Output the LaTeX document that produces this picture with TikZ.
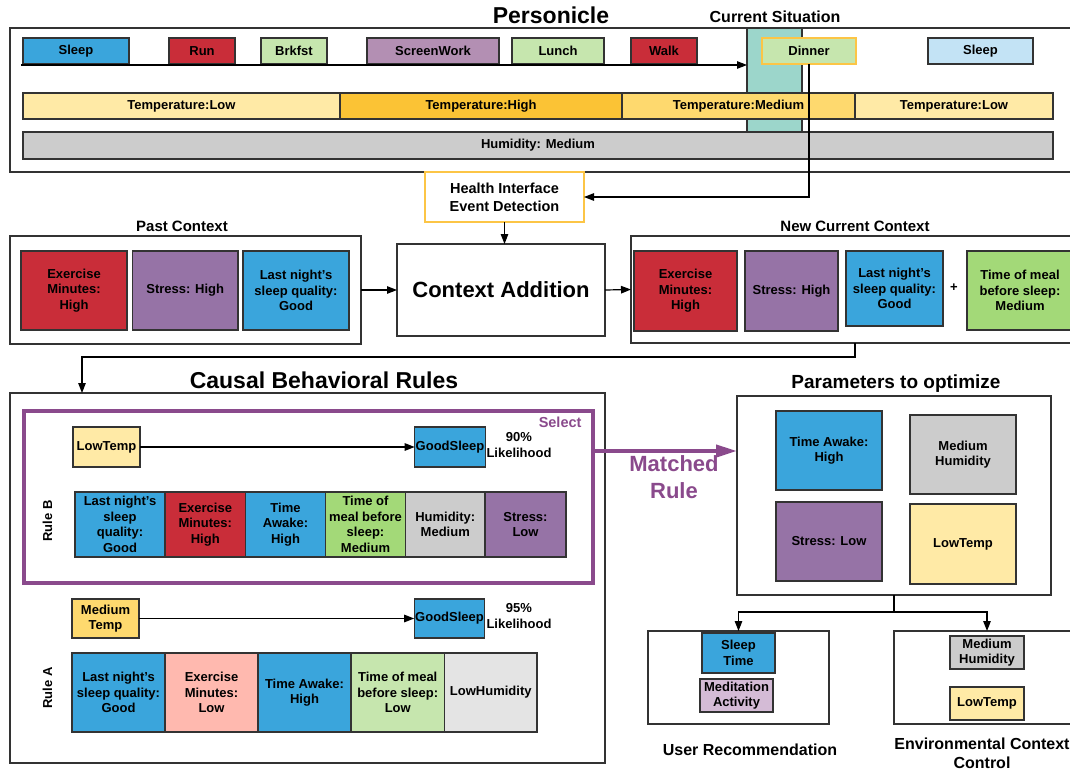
\documentclass[tikz,border=0pt]{standalone}
\usepackage{fontspec}
\setmainfont{Liberation Sans}
\usetikzlibrary{arrows.meta,calc}
\definecolor{lc}{HTML}{333333}
\definecolor{cblue}{HTML}{3AA5DC}
\definecolor{cred}{HTML}{C92D39}
\definecolor{clgreen}{HTML}{C6E6AE}
\definecolor{cgreen}{HTML}{A3D978}
\definecolor{cpurpl}{HTML}{B38FB3}
\definecolor{cpurp}{HTML}{9673A6}
\definecolor{clblue}{HTML}{C3E3F5}
\definecolor{cteal}{HTML}{9CD6CB}
\definecolor{ctlow}{HTML}{FFEAA6}
\definecolor{cthigh}{HTML}{FBC335}
\definecolor{ctmed}{HTML}{FED96E}
\definecolor{cgray}{HTML}{CCCCCC}
\definecolor{clgray}{HTML}{E4E4E4}
\definecolor{csalmon}{HTML}{FFB9AF}
\definecolor{clpurp}{HTML}{D4BBD6}
\definecolor{csel}{HTML}{8A4A8C}
\definecolor{cyel}{HTML}{FCC546}
\newcommand\fsz[2]{\fontsize{#1}{#2}\selectfont\bfseries}
\newcommand\mybox[7]{\node[bx,#6,minimum width={(#4)-(#2)},minimum height={(#5)-(#3)}] (#1) at ({((#2)+(#4))/2},{((#3)+(#5))/2}) {#7};}
\tikzset{
  bx/.style={draw=lc, line width=1.3pt, inner sep=1pt, outer sep=0pt, align=center, font=\fsz{13}{15.6}},
  ttl/.style={font=\fsz{15}{18}, align=center},
  arr/.style={draw=black, line width=1.2pt, -{Triangle[length=10pt,width=7.5pt]}},
  plain/.style={draw=black, line width=1.2pt},
}
\begin{document}
\begin{tikzpicture}[x=1pt,y=-1pt]
\useasboundingbox (0,0) rectangle (1070,771);
% ---------------- Personicle
\node[font=\fsz{23}{27}] (title) at (551,15) {Personicle};
\node[font=\fsz{16}{19}] (cs) at (775,17) {Current Situation};
\mybox{pers}{10}{28}{1085}{172}{}{}
\mybox{teal}{747}{28}{802}{132}{fill=cteal}{}
\mybox{sleepa}{23}{38}{129}{64}{fill=cblue}{Sleep}
\mybox{run}{169}{38}{235}{64}{fill=cred}{Run}
\mybox{brk}{261}{38}{327}{64}{fill=clgreen}{Brkfst}
\mybox{scr}{367}{38}{499}{64}{fill=cpurpl}{ScreenWork}
\mybox{lunch}{512}{38}{604}{64}{fill=clgreen}{Lunch}
\mybox{walk}{631}{38}{697}{64}{fill=cred}{Walk}
\mybox{dinner}{762}{38}{856}{64}{fill=clgreen,draw=cyel}{Dinner}
\mybox{sleepb}{928}{38}{1033}{64}{fill=clblue}{Sleep}
\coordinate (tl0) at (21,65);
\draw[arr] (tl0) -- (tl0 -| teal.west);
\mybox{tlowa}{23}{93}{340}{119}{fill=ctlow}{Temperature:Low}
\mybox{thigh}{340}{93}{622}{119}{fill=cthigh}{Temperature:High}
\mybox{tmed}{622}{93}{855}{119}{fill=ctmed}{Temperature:Medium}
\mybox{tlowb}{855}{93}{1053}{119}{fill=ctlow}{Temperature:Low}
\mybox{hum}{23}{132}{1053}{159}{fill=cgray}{Humidity: Medium}
% ---------------- Health interface
\mybox{hi}{425}{172}{584}{222}{draw=cyel,fill=white,font=\fsz{14.5}{18}}{Health Interface\\Event Detection}
\draw[arr] (dinner.south) |- (hi.east);
% ---------------- Past context
\node[ttl] (pct) at (182,226) {Past Context};
\mybox{pc}{10}{236}{361}{344}{}{}
\mybox{pe}{21}{251}{127}{330}{fill=cred}{Exercise\\Minutes:\\High}
\mybox{ps}{132.5}{251}{238}{330}{fill=cpurp}{Stress: High}
\mybox{pq}{243}{251}{349}{330}{fill=cblue}{Last night's\\sleep quality:\\Good}
% ---------------- Context addition
\mybox{ca}{397}{244}{605}{336}{fill=white,font=\fsz{22}{26}}{Context Addition}
\draw[arr] (hi.south) -- (hi.south |- ca.north);
\draw[arr] (pc.east) -- (ca.west);
% ---------------- New current context
\node[ttl] (ncct) at (855,226) {New Current Context};
\mybox{ncc}{631}{236}{1079}{343}{}{}
\draw[arr] (ca.east) -- (ncc.west);
\mybox{ne}{634}{251}{737}{331}{fill=cred}{Exercise\\Minutes:\\High}
\mybox{ns}{745}{251}{838}{331}{fill=cpurp}{Stress: High}
\mybox{nq}{846}{251}{943}{326}{fill=cblue}{Last night's\\sleep quality:\\Good}
\node[font=\fsz{13}{15}] (plus) at (954,288) {+};
\mybox{nm}{967}{251}{1073}{330}{fill=cgreen}{Time of meal\\before sleep:\\Medium}
% ---------------- Causal rules
\node[font=\fsz{23}{27}] (cbrt) at (324,380) {Causal Behavioral Rules};
\mybox{cbr}{10}{393}{605}{763}{}{}
\coordinate (bend1) at (855,357);
\coordinate (cbrin) at (82,393);
\draw[arr] (ncc.south) -- (bend1) -| (cbrin);
\mybox{sel}{24}{411}{593}{583}{draw=csel,line width=4pt}{}
\node[anchor=east,text=csel,font=\fsz{14.5}{17}] (selt) at (585,422) {Select};
% Rule B
\mybox{ltb}{73}{427}{140}{467}{fill=ctlow}{LowTemp}
\mybox{gsb}{417}{427}{483}{467}{fill=cblue}{GoodSleep}
\draw[arr] (ltb.east) -- (gsb.west);
\node[font=\fsz{13}{16}, align=center] (likb) at (519,445) {90\%\\Likelihood};
\node[rotate=90,font=\fsz{13}{15}] (rb) at (47.5,521) {Rule B};
\mybox{b1}{75}{492}{165}{557}{fill=cblue}{Last night's\\sleep\\quality:\\Good}
\mybox{b2}{165}{492}{245.5}{557}{fill=cred}{Exercise\\Minutes:\\High}
\mybox{b3}{245.5}{492}{325.5}{557}{fill=cblue}{Time\\Awake:\\High}
\mybox{b4}{325.5}{492}{405.5}{557}{fill=cgreen}{Time of\\meal before\\sleep:\\Medium}
\mybox{b5}{405.5}{492}{485}{557}{fill=cgray}{Humidity:\\Medium}
\mybox{b6}{485}{492}{566}{557}{fill=cpurp}{Stress:\\Low}
% Rule A
\mybox{mta}{72}{599}{139}{638}{fill=ctmed}{Medium\\Temp}
\mybox{gsa}{416}{599}{483}{638}{fill=cblue}{GoodSleep}
\draw[arr] (mta.east) -- (gsa.west);
\node[font=\fsz{13}{16}, align=center] (lika) at (519,616.5) {95\%\\Likelihood};
\node[rotate=90,font=\fsz{13}{15}] (ra) at (47.5,688) {Rule A};
\mybox{a1}{72}{653}{165}{732}{fill=cblue}{Last night's\\sleep quality:\\Good}
\mybox{a2}{165}{653}{258}{732}{fill=csalmon}{Exercise\\Minutes:\\Low}
\mybox{a3}{258}{653}{351}{732}{fill=cblue}{Time Awake:\\High}
\mybox{a4}{351}{653}{444.5}{732}{fill=clgreen}{Time of meal\\before sleep:\\Low}
\mybox{a5}{444.5}{653}{537}{732}{fill=clgray}{LowHumidity}
% ---------------- Parameters
\node[font=\fsz{19}{22}] (part) at (896,384) {Parameters to optimize};
\mybox{params}{737}{396}{1051}{595}{}{}
\mybox{p1}{776}{411}{882}{490}{fill=cblue}{Time Awake:\\High}
\mybox{p2}{910}{415}{1016}{494}{fill=cgray}{Medium\\Humidity}
\mybox{p3}{776}{502}{882}{581}{fill=cpurp}{Stress: Low}
\mybox{p4}{910}{504}{1016}{584}{fill=ctlow}{LowTemp}
\coordinate (mr) at (593,451);
\draw[csel, line width=4pt, -{Triangle[length=21pt,width=12pt]}] (mr) -- (mr -| params.west);
\node[text=csel, font=\fsz{22}{27}, align=center] (mrt) at (674,477) {Matched\\Rule};
% ---------------- Outputs
\mybox{ur}{648}{631}{829}{724}{}{}
\mybox{st}{702}{633}{775}{673}{fill=cblue}{Sleep\\Time}
\mybox{med}{700}{679}{773}{712}{fill=clpurp}{Meditation\\Activity}
\node[font=\fsz{16}{19}] (urt) at (750,750) {User Recommendation};
\mybox{env}{894}{631}{1080}{724}{}{}
\mybox{emh}{950}{636}{1024}{669}{fill=cgray}{Medium\\Humidity}
\mybox{elt}{950}{687}{1024}{720}{fill=ctlow}{LowTemp}
\node[font=\fsz{16}{19}, align=center] (envt) at (982,753) {Environmental Context\\Control};
\coordinate (sp) at ($(params.south)+(0,17)$);
\draw[plain] (params.south) -- (sp);
\draw[arr] (sp) -| (ur.north);
\draw[arr] (sp) -| (env.north);
\end{tikzpicture}
\end{document}
